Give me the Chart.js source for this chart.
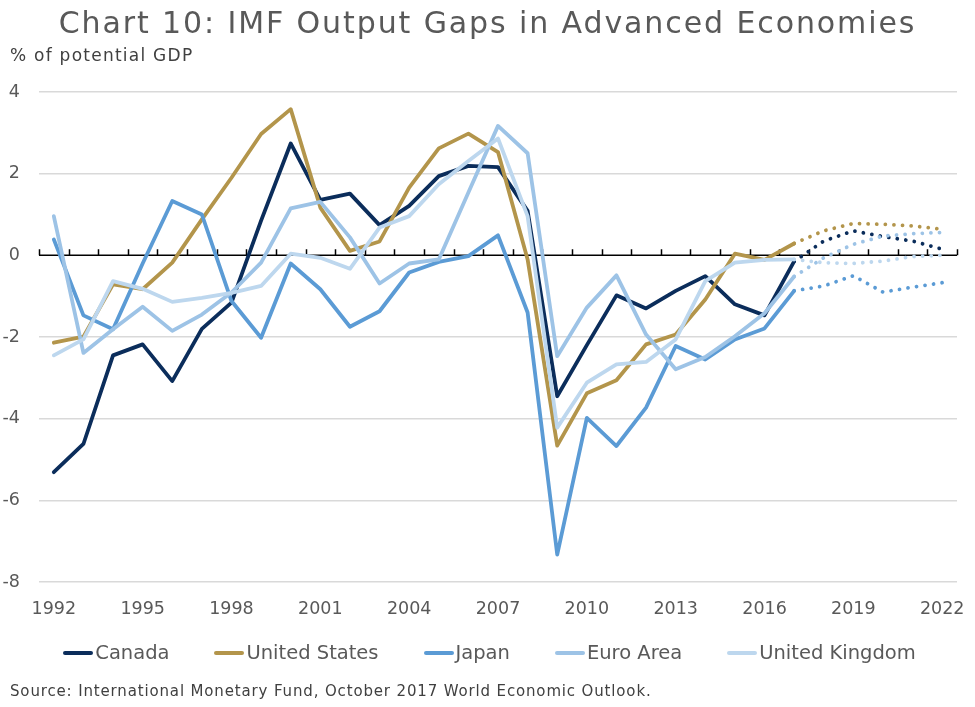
<!DOCTYPE html>
<html lang="en">
<head>
  <meta charset="UTF-8">
  <title>IMF Output Gaps in Advanced Economies</title>
  <script src="https://cdn.jsdelivr.net/npm/chart.js"></script>
  <style>
    html, body { margin: 0; padding: 0; background: #fff; }
    body { width: 975px; height: 707px; position: relative; overflow: hidden; font-family: "DejaVu Sans", sans-serif; }
    #wrap { position: absolute; left: 0; top: 0; width: 975px; height: 707px; }
    .txt { position: absolute; white-space: nowrap; }
    #title { left: 0; width: 975px; text-align: center; top: 8px; font-size: 30px; line-height: 30px; letter-spacing: 1.9px; color: #595959; }
    #unit { left: 10px; top: 47px; font-size: 17px; line-height: 17px; letter-spacing: 1.25px; color: #404040; }
    #source { left: 10px; top: 684px; font-size: 15px; line-height: 15px; letter-spacing: 0.85px; color: #404040; }
    #legend { position: absolute; left: 2px; width: 975px; top: 641px; display: flex; justify-content: center; gap: 45px; }
    .item { display: flex; align-items: center; font-size: 19.5px; line-height: 24px; color: #595959; }
    .item span.sw { display: inline-block; width: 30px; height: 4px; border-radius: 2px; margin-right: 2px; }
  </style>
</head>
<body>

  <div id="wrap"><canvas id="myChart"></canvas></div>
  <div id="title" class="txt">Chart 10: IMF Output Gaps in Advanced Economies</div>
  <div id="unit" class="txt">% of potential GDP</div>
  <div id="legend"></div>
  <div id="source" class="txt">Source: International Monetary Fund, October 2017 World Economic Outlook.</div>

  <script>
    // 1992 - 2022, values after 2017 are IMF projections (drawn dotted)
    const years = [];
    for (let y = 1992; y <= 2022; y++) years.push(String(y));
    const lastActual = 25; // index of 2017

    const canada = [-5.31, -4.62, -2.45, -2.18, -3.08, -1.80, -1.16, 0.85, 2.74, 1.36,
      1.51, 0.74, 1.21, 1.94, 2.19, 2.16, 1.09, -3.45, -2.20, -0.98,
      -1.30, -0.87, -0.51, -1.20, -1.47, -0.15, 0.35, 0.60, 0.46, 0.35, 0.15];
    const unitedStates = [-2.14, -1.99, -0.71, -0.83, -0.18, 0.88, 1.90, 2.97, 3.58, 1.17,
      0.11, 0.34, 1.66, 2.62, 2.98, 2.53, -0.10, -4.66, -3.38, -3.06,
      -2.18, -1.94, -1.08, 0.04, -0.11, 0.29, 0.60, 0.78, 0.76, 0.72, 0.64];
    const japan = [0.39, -1.47, -1.81, -0.20, 1.33, 1.00, -1.12, -2.02, -0.20, -0.83,
      -1.75, -1.37, -0.42, -0.16, -0.02, 0.49, -1.40, -7.33, -3.98, -4.67,
      -3.73, -2.22, -2.55, -2.06, -1.79, -0.87, -0.75, -0.50, -0.90, -0.78, -0.67];
    const euroArea = [0.96, -2.39, -1.81, -1.26, -1.85, -1.45, -0.91, -0.18, 1.15, 1.31,
      0.44, -0.69, -0.20, -0.10, 1.54, 3.17, 2.50, -2.47, -1.28, -0.49,
      -1.94, -2.79, -2.49, -1.98, -1.42, -0.52, -0.06, 0.27, 0.47, 0.53, 0.56];
    const unitedKingdom = [-2.45, -2.06, -0.63, -0.82, -1.14, -1.04, -0.92, -0.75, 0.04, -0.06,
      -0.33, 0.68, 0.96, 1.74, 2.31, 2.86, 0.96, -4.22, -3.12, -2.67,
      -2.61, -2.06, -0.63, -0.18, -0.11, -0.10, -0.18, -0.20, -0.14, -0.03, 0.00];

    const names = ['Canada', 'United States', 'Japan', 'Euro Area', 'United Kingdom'];
    const colors = ['#0b2d5b', '#b3954b', '#5b9bd5', '#9dc3e6', '#bdd7ee'];
    const series = [canada, unitedStates, japan, euroArea, unitedKingdom];
    const yTicks = [-8, -6, -4, -2, 0, 2, 4];

    // zero axis with small category ticks
    const zeroAxis = {
      id: 'zeroAxis',
      beforeDatasetsDraw(chart) {
        const { ctx, chartArea, scales: { x, y } } = chart;
        const y0 = y.getPixelForValue(0);
        const step = x.getPixelForValue(1) - x.getPixelForValue(0);
        const start = x.getPixelForValue(0) - step / 2;
        ctx.save();
        ctx.strokeStyle = '#000';
        ctx.lineWidth = 1.5;
        ctx.beginPath();
        ctx.moveTo(chartArea.left, y0);
        ctx.lineTo(chartArea.right, y0);
        for (let i = 0; i <= years.length; i++) {
          const px = Math.round(start + i * step) + 0.5;
          ctx.moveTo(px, y0);
          ctx.lineTo(px, y0 - 6);
        }
        ctx.stroke();
        ctx.restore();
      }
    };

    const datasets = series.map((vals, i) => ({
      label: names[i],
      data: vals,
      borderColor: colors[i],
      backgroundColor: colors[i],
      borderWidth: 3.8,
      borderCapStyle: 'round',
      borderJoinStyle: 'round',
      pointRadius: 0,
      tension: 0,
      order: series.length - i,
      segment: {
        borderDash: ctx => ctx.p0DataIndex >= lastActual ? [0.01, 8.6] : undefined
      }
    }));

    new Chart(document.getElementById('myChart'), {
      type: 'line',
      data: { labels: years, datasets: datasets },
      options: {
        responsive: true,
        maintainAspectRatio: false,
        animation: false,
        layout: { padding: { top: 92, right: 18, bottom: 0, left: 0 } },
        plugins: {
          legend: { display: false },
          tooltip: { enabled: false }
        },
        scales: {
          x: {
            offset: true,
            grid: { display: false, drawTicks: false },
            border: { display: false },
            ticks: {
              autoSkip: false,
              maxRotation: 0,
              padding: 10,
              color: '#595959',
              font: { family: 'DejaVu Sans', size: 17.5, lineHeight: 2 },
              callback: (v, i) => i % 3 === 0 ? years[i] : ''
            },
            afterFit: s => { s.height = 125; }
          },
          y: {
            min: -8,
            max: 4,
            afterBuildTicks: s => { s.ticks = yTicks.map(v => ({ value: v })); },
            grid: {
              drawTicks: false,
              lineWidth: 1.5,
              color: c => c.tick && c.tick.value === 0 ? 'rgba(0,0,0,0)' : '#d9d9d9'
            },
            border: { display: false },
            ticks: {
              padding: 19,
              color: '#595959',
              font: { family: 'DejaVu Sans', size: 17.5 }
            },
            afterFit: s => { s.width = 39; }
          }
        }
      },
      plugins: [zeroAxis]
    });

    // legend
    const leg = document.getElementById('legend');
    names.forEach((n, i) => {
      const d = document.createElement('div');
      d.className = 'item';
      d.innerHTML = `<span class="sw" style="background:${colors[i]}"></span>${n}`;
      leg.appendChild(d);
    });
  </script>

</body>
</html>
